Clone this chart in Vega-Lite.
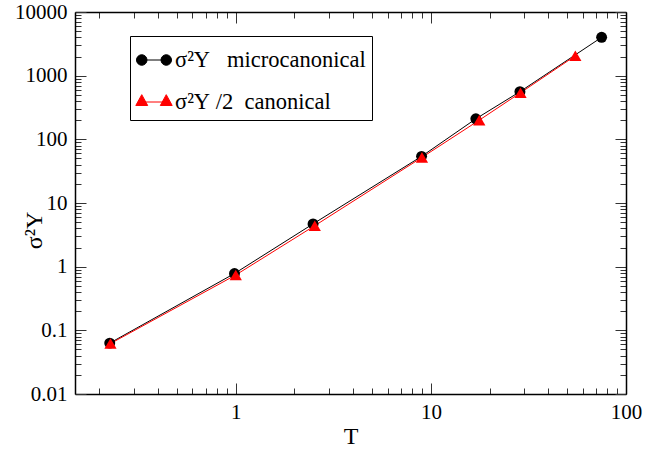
{
  "$schema": "https://vega.github.io/schema/vega-lite/v6.json",
  "width": 551,
  "height": 382,
  "autosize": {"type": "none"},
  "padding": {"left": 75, "top": 12, "right": 19, "bottom": 56},
  "config": {"view": {"stroke": null}, "font": "Liberation Serif"},
  "data": {
    "values": [
      {"T": 0.226, "v": 0.063, "s": "micro"},
      {"T": 0.985, "v": 0.78, "s": "micro"},
      {"T": 2.49, "v": 4.7, "s": "micro"},
      {"T": 8.96, "v": 54, "s": "micro"},
      {"T": 17.0, "v": 210, "s": "micro"},
      {"T": 28.6, "v": 560, "s": "micro"},
      {"T": 75, "v": 4000, "s": "micro"},
      {"T": 0.228, "v": 0.062, "s": "canon"},
      {"T": 1.0, "v": 0.74, "s": "canon"},
      {"T": 2.54, "v": 4.4, "s": "canon"},
      {"T": 9.0, "v": 52, "s": "canon"},
      {"T": 17.7, "v": 200, "s": "canon"},
      {"T": 28.8, "v": 540, "s": "canon"},
      {"T": 55, "v": 2050, "s": "canon"}
    ]
  },
  "layer": [
    {
      "transform": [{"filter": "datum.s === 'micro'"}],
      "mark": {"type": "line", "strokeWidth": 1, "color": "black"},
      "encoding": {
        "x": {
          "field": "T", "type": "quantitative",
          "scale": {"type": "log", "domain": [0.15, 100]},
          "axis": {
            "orient": "bottom", "title": "T", "grid": false,
            "values": [0.2,0.3,0.4,0.5,0.6,0.7,0.8,0.9,1,2,3,4,5,6,7,8,9,10,20,30,40,50,60,70,80,90,100],
            "labelExpr": "indexof([1,10,100], datum.value) >= 0 ? format(datum.value, '~g') : ''",
            "tickSize": {"condition": {"test": "indexof([1,10,100], datum.value) >= 0", "value": -11}, "value": -6},
            "labelPadding": 18, "labelFont": "Liberation Serif", "labelFontSize": 21, "labelColor": "black",
            "labelFlush": false, "labelOverlap": false,
            "titleFont": "Liberation Serif", "titleFontSize": 24, "titleFontWeight": "normal", "titleColor": "black", "titlePadding": -3,
            "domainColor": "black", "domainWidth": 1.5, "tickColor": "#333", "tickWidth": 1
          }
        },
        "y": {
          "field": "v", "type": "quantitative",
          "scale": {"type": "log", "domain": [0.01, 10000]},
          "axis": {
            "orient": "left", "title": "σ²Y", "grid": false,
            "values": [0.01,0.02,0.03,0.04,0.05,0.06,0.07,0.08,0.09,0.1,0.2,0.3,0.4,0.5,0.6,0.7,0.8,0.9,1,2,3,4,5,6,7,8,9,10,20,30,40,50,60,70,80,90,100,200,300,400,500,600,700,800,900,1000,2000,3000,4000,5000,6000,7000,8000,9000,10000],
            "labelExpr": "indexof([0.01,0.1,1,10,100,1000,10000], datum.value) >= 0 ? format(datum.value, '~g') : ''",
            "tickSize": {"condition": {"test": "indexof([0.01,0.1,1,10,100,1000,10000], datum.value) >= 0", "value": -11}, "value": -6},
            "labelPadding": 19, "labelFont": "Liberation Serif", "labelFontSize": 21, "labelColor": "black",
            "labelFlush": false, "labelOverlap": false,
            "titleFont": "Liberation Serif", "titleFontSize": 24, "titleFontWeight": "normal", "titleColor": "black", "titlePadding": -32,
            "titleY": 218,
            "domainColor": "black", "domainWidth": 1.5, "tickColor": "#333", "tickWidth": 1
          }
        }
      }
    },
    {
      "transform": [{"filter": "datum.s === 'canon'"}],
      "mark": {"type": "line", "strokeWidth": 1, "color": "red"},
      "encoding": {
        "x": {"field": "T", "type": "quantitative", "scale": {"type": "log", "domain": [0.15, 100]}, "axis": null},
        "y": {"field": "v", "type": "quantitative", "scale": {"type": "log", "domain": [0.01, 10000]}, "axis": null}
      }
    },
    {
      "transform": [{"filter": "datum.s === 'micro'"}],
      "mark": {"type": "point", "shape": "circle", "filled": true, "opacity": 1, "size": 120},
      "encoding": {
        "x": {
          "field": "T", "type": "quantitative",
          "scale": {"type": "log", "domain": [0.15, 100]},
          "axis": {
            "orient": "top", "title": null, "grid": false, "labels": false,
            "values": [0.2,0.3,0.4,0.5,0.6,0.7,0.8,0.9,1,2,3,4,5,6,7,8,9,10,20,30,40,50,60,70,80,90,100],
            "tickSize": {"condition": {"test": "indexof([1,10,100], datum.value) >= 0", "value": -11}, "value": -6},
            "domainColor": "black", "domainWidth": 1.5, "tickColor": "#333", "tickWidth": 1
          }
        },
        "y": {
          "field": "v", "type": "quantitative",
          "scale": {"type": "log", "domain": [0.01, 10000]},
          "axis": {
            "orient": "right", "title": null, "grid": false, "labels": false,
            "values": [0.01,0.02,0.03,0.04,0.05,0.06,0.07,0.08,0.09,0.1,0.2,0.3,0.4,0.5,0.6,0.7,0.8,0.9,1,2,3,4,5,6,7,8,9,10,20,30,40,50,60,70,80,90,100,200,300,400,500,600,700,800,900,1000,2000,3000,4000,5000,6000,7000,8000,9000,10000],
            "tickSize": {"condition": {"test": "indexof([0.01,0.1,1,10,100,1000,10000], datum.value) >= 0", "value": -11}, "value": -6},
            "domainColor": "black", "domainWidth": 1.5, "tickColor": "#333", "tickWidth": 1
          }
        },
        "color": {
          "field": "s", "type": "nominal",
          "scale": {"domain": ["micro", "canon"], "range": ["black", "red"]},
          "legend": {
            "title": null, "orient": "none", "legendX": 55, "legendY": 24,
            "direction": "vertical",
            "strokeColor": "black", "fillColor": "white", "padding": 6,
            "symbolSize": 1225, "symbolStrokeWidth": 1,
            "symbolType": {"expr": "datum.value === 'micro' ? 'M -1 0 A 0.3 0.3 0 1 1 -0.4 0 A 0.3 0.3 0 1 1 -1 0 Z M 0.4 0 A 0.3 0.3 0 1 1 1 0 A 0.3 0.3 0 1 1 0.4 0 Z M -0.7 0 L 0.7 0' : 'M -1.04 0.2 L -0.7 -0.42 L -0.36 0.2 Z M 0.36 0.2 L 0.7 -0.42 L 1.04 0.2 Z M -0.7 0 L 0.7 0'"},
            "symbolStrokeColor": {"expr": "datum.value === 'micro' ? 'black' : 'red'"},
            "labelFont": "Liberation Serif", "labelFontSize": 22.5, "labelColor": "black", "labelOffset": 3,
            "labelLimit": 400, "rowPadding": 12,
            "labelExpr": "datum.value === 'micro' ? 'σ²Y\u00a0\u00a0\u00a0microcanonical' : 'σ²Y\u00a0/2\u00a0\u00a0canonical'",
            "encode": {
              "symbols": {
                "stroke": {"value": {"expr": "datum.value === 'micro' ? 'black' : 'red'"}},
                "strokeWidth": {"value": 1}
              }
            }
          }
        }
      }
    },
    {
      "transform": [{"filter": "datum.s === 'canon'"}],
      "mark": {"type": "point", "shape": "triangle-up", "filled": true, "opacity": 1, "size": 150, "color": "red"},
      "encoding": {
        "x": {"field": "T", "type": "quantitative", "scale": {"type": "log", "domain": [0.15, 100]}, "axis": null},
        "y": {"field": "v", "type": "quantitative", "scale": {"type": "log", "domain": [0.01, 10000]}, "axis": null}
      }
    }
  ],
  "resolve": {"axis": {"x": "independent", "y": "independent"}}
}
